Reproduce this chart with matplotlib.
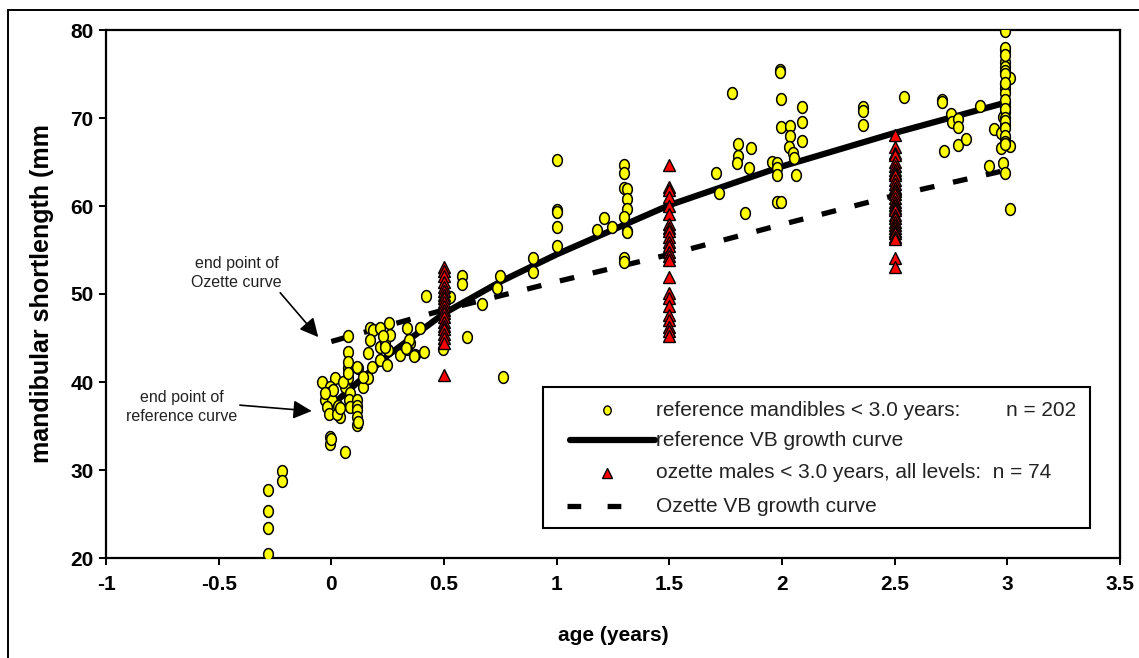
import numpy as np
import matplotlib
matplotlib.use("Agg")
import matplotlib.pyplot as plt
from matplotlib.path import Path
from matplotlib.patches import Rectangle
from matplotlib.lines import Line2D

plt.rcParams['font.family'] = ['Liberation Sans', 'DejaVu Sans']

# ---------------- data ----------------
# reference mandibles (yellow circles)
ref_age = [
    -0.28, -0.28, -0.28, -0.28, -0.22, -0.22,
    -0.04, 0.075, 0.075, 0.075, 0.016, 0.075, 0.12, -0.006, -0.009, -0.028,
    0.002, 0.031, -0.02, -0.009, 0.039, 0.061, 0.083, 0.08, 0.083, 0.115,
    0.115, 0.115, 0.115, -0.006, -0.006, 0.061, 0.142, 0.164, 0.179, 0.216,
    0.246, 0.216, 0.238, 0.253, 0.172, 0.186, 0.216, 0.257, 0.172, 0.164,
    0.113, 0.053, 0.009, 0.142, 0.26, 0.305, 0.335, 0.35, 0.371, 0.394,
    0.411, 0.335, 0.228, 0.075, 0.075, 0.024, 0.113, -0.028, 0.039, 0.12, 0.0,
    0.42, 0.346, 0.33, 0.368, 0.24, 0.497, 0.579, 0.579, 0.527, 0.60, 0.669,
    0.737, 0.749, 0.764, 0.894, 0.894,
    1.0, 1.0, 1.0, 1.0, 1.0, 1.18, 1.21, 1.245,
    1.30, 1.30, 1.30, 1.31, 1.31, 1.31, 1.30, 1.31, 1.30, 1.30, 1.31,
    1.706, 1.72, 1.777, 1.806, 1.863, 1.804, 1.80, 1.854, 1.836,
    1.955, 1.98, 1.98, 1.98, 1.977, 1.994, 1.99, 1.99, 1.994, 1.994,
    2.036, 2.036, 2.033, 2.048, 2.054, 2.06, 2.088, 2.088, 2.088,
    2.36, 2.36, 2.36, 2.54, 2.71, 2.75, 2.754, 2.78, 2.78, 2.78, 2.816,
    2.72, 2.88, 2.92, 2.94, 2.71,
    2.99, 2.99, 2.99, 2.99, 2.99, 3.01, 2.99, 2.99, 2.99, 2.99, 2.99, 2.99,
    2.98, 2.99, 2.97, 2.99, 3.01, 2.97, 2.98, 2.99, 3.01,
    2.99, 2.99, 2.99, 2.99, 2.99, 2.99, 2.99, 2.99, 2.99, 2.99, 2.99, 2.99,
]
ref_len = [
    27.7, 25.3, 23.4, 20.4, 29.9, 28.8,
    40.0, 45.2, 43.4, 41.55, 40.4, 40.4, 41.55, 39.4, 38.7, 37.95,
    37.95, 37.3, 37.2, 36.4, 36.05, 39.4, 38.7, 37.95, 37.2, 37.95,
    37.3, 36.8, 35.1, 33.8, 33.0, 32.1, 39.4, 40.4, 41.7, 42.5,
    41.9, 44.0, 44.6, 43.6, 46.1, 45.9, 46.1, 46.7, 44.8, 43.3,
    41.7, 40.0, 39.1, 40.6, 45.3, 43.1, 46.1, 44.4, 43.1, 46.1,
    43.4, 43.8, 45.2, 42.3, 41.0, 36.4, 36.05, 38.7, 37.0, 35.4, 33.5,
    49.8, 44.8, 43.9, 43.0, 44.0, 43.7, 52.1, 51.1, 49.7, 45.15, 48.9,
    50.7, 52.1, 40.6, 54.05, 52.5,
    65.2, 59.5, 59.3, 57.65, 55.4, 57.3, 58.6, 57.65,
    64.7, 63.7, 62.0, 61.9, 60.8, 59.7, 58.8, 57.2, 54.05, 53.6, 57.0,
    63.7, 61.5, 72.8, 67.1, 66.6, 65.7, 64.9, 64.35, 59.2,
    65.0, 64.85, 64.3, 63.5, 60.5, 60.5, 75.4, 75.2, 72.2, 69.0,
    69.1, 67.95, 66.7, 66.0, 65.5, 63.5, 71.2, 69.6, 67.4,
    71.2, 70.8, 69.2, 72.4, 72.0, 70.5, 69.6, 69.85, 69.0, 66.9, 67.6,
    66.2, 71.4, 64.6, 68.8, 71.8,
    79.9, 77.7, 76.4, 75.8, 75.3, 74.5, 73.9, 73.4, 72.8, 71.85, 71.3, 70.7,
    70.15, 69.2, 68.3, 67.7, 66.8, 66.6, 64.9, 63.7, 59.7,
    78.0, 77.2, 75.0, 74.0, 72.0, 71.0, 70.0, 69.7, 68.9, 68.0, 67.3, 67.0,
]

# ozette males (red triangles)
oz_age = [0.5] * 20 + [1.5] * 24 + [2.5] * 30
oz_len = [
    53.1, 52.6, 52.0, 51.4, 50.8, 50.3, 49.85, 49.5, 49.1, 48.6, 48.2, 47.8,
    47.4, 46.8, 46.4, 46.0, 45.5, 45.0, 44.4, 40.8,
    64.7, 62.2, 61.8, 61.0, 60.0, 59.1, 58.0, 57.5, 57.2, 56.5, 55.9, 55.5,
    54.8, 54.3, 53.9, 51.9, 50.1, 49.5, 48.6, 47.6, 47.0, 46.3, 45.8, 45.2,
    68.1, 66.7, 66.0, 65.8, 65.0, 64.5, 64.1, 63.8, 63.5, 63.0, 62.5, 62.0,
    61.7, 61.4, 60.9, 60.5, 60.1, 59.8, 59.5, 59.0, 58.6, 58.2, 57.8, 57.5,
    57.2, 56.9, 56.5, 56.25, 54.05, 53.1,
]

# growth curves
ref_curve_age = [0.0, 0.25, 0.5, 0.75, 1.0, 1.5, 2.0, 2.5, 3.0]
ref_curve_len = [37.3, 43.0, 47.8, 51.4, 54.5, 60.1, 64.5, 68.3, 71.8]
oz_curve_age = [0.0, 0.5, 1.0, 1.5, 2.0, 2.5, 3.0]
oz_curve_len = [44.6, 48.2, 51.4, 54.5, 57.9, 61.2, 64.1]

x_ticks = [-1, -0.5, 0, 0.5, 1, 1.5, 2, 2.5, 3, 3.5]
x_tick_labels = ['-1', '-0.5', '0', '0.5', '1', '1.5', '2', '2.5', '3', '3.5']
y_ticks = [20, 30, 40, 50, 60, 70, 80]

# ---------------- figure ----------------
W, H = 1139, 658
fig = plt.figure(figsize=(W / 100, H / 100), dpi=100)
ax = fig.add_axes([106 / W, (H - 558) / H, 1014 / W, 528 / H])

# figure border (extends past right/bottom edges)
fig.add_artist(Rectangle((8 / W, -0.1), 1.2, 1.1 - 10 / H,
                         transform=fig.transFigure, fill=False,
                         lw=1.4, edgecolor='black'))

th = np.linspace(0, 2 * np.pi, 48)
ell = Path(np.c_[0.82 * np.cos(th), np.sin(th)], closed=True)

ax.plot(oz_curve_age, oz_curve_len, color='black', lw=3.8,
        dashes=(2.8, 3.6), solid_capstyle='butt', dash_capstyle='butt', zorder=2)
ax.plot(ref_curve_age, ref_curve_len, color='black', lw=4.5,
        solid_capstyle='round', zorder=2)
ax.plot(ref_age, ref_len, linestyle='none', marker=ell, markersize=8.5,
        markerfacecolor='#FFFF00', markeredgecolor='black',
        markeredgewidth=1.1, zorder=3)
ax.plot(oz_age, oz_len, linestyle='none', marker='^', markersize=9,
        markerfacecolor='#FF0000', markeredgecolor='black',
        markeredgewidth=1.0, zorder=4)

ax.set_xlim(-1, 3.5)
ax.set_ylim(20, 80)
ax.set_xticks(x_ticks)
ax.set_xticklabels(x_tick_labels)
ax.set_yticks(y_ticks)
for s in ax.spines.values():
    s.set_linewidth(1.6)
ax.tick_params(axis='both', direction='out', length=5, width=1.4,
               labelsize=15)
ax.tick_params(axis='x', pad=7)
ax.tick_params(axis='y', pad=4)
for lab in ax.get_xticklabels() + ax.get_yticklabels():
    lab.set_fontweight('bold')

ax.set_xlabel('age (years)', fontsize=15, fontweight='bold', labelpad=23)
ax.set_ylabel('mandibular shortlength (mm', fontsize=18, fontweight='bold',
              labelpad=12)

# annotations
ax.annotate('end point of\nOzette curve', xy=(-0.058, 45.1),
            xytext=(-0.42, 52.4), ha='center', va='center', fontsize=11.5,
            color='#222222', linespacing=1.35,
            arrowprops=dict(arrowstyle='-|>', color='black', lw=1.2,
                            mutation_scale=28, shrinkA=0, shrinkB=0,
                            relpos=(0.97, -0.05)))
ax.annotate('end point of\nreference curve', xy=(-0.087, 36.7),
            xytext=(-0.665, 37.2), ha='center', va='center', fontsize=11.5,
            color='#222222', linespacing=1.35,
            arrowprops=dict(arrowstyle='-|>', color='black', lw=1.2,
                            mutation_scale=28, shrinkA=0, shrinkB=0,
                            relpos=(1.0, 0.55)))

# legend (manual)
def fx(px):
    return (px - 106) / 1014

def fy(py):
    return (558 - py) / 528

ax.add_patch(Rectangle((fx(543), fy(528)), fx(1090) - fx(543), fy(387) - fy(528),
                       transform=ax.transAxes, fill=True, facecolor='white',
                       edgecolor='black', lw=1.5, zorder=10))
rows = [fy(410), fy(440), fy(473), fy(506)]
ax.add_line(Line2D([fx(607)], [rows[0]], transform=ax.transAxes, marker=ell,
                   markersize=6.5, markerfacecolor='#FFFF00', markeredgecolor='black',
                   markeredgewidth=1.0, linestyle='none', zorder=11))
ax.add_line(Line2D([fx(570), fx(655)], [rows[1], rows[1]], transform=ax.transAxes,
                   color='black', lw=4.5, solid_capstyle='round', zorder=11))
ax.add_line(Line2D([fx(607)], [rows[2]], transform=ax.transAxes, marker='^',
                   markersize=7, markerfacecolor='#FF0000', markeredgecolor='black',
                   markeredgewidth=1.0, linestyle='none', zorder=11))
ax.add_line(Line2D([fx(567), fx(638)], [rows[3], rows[3]], transform=ax.transAxes,
                   color='black', lw=3.8, dashes=(2.6, 5.0), dash_capstyle='butt',
                   zorder=11))
leg_texts = ['reference mandibles < 3.0 years:',
             'reference VB growth curve',
             'ozette males < 3.0 years, all levels:  n = 74',
             'Ozette VB growth curve']
for r, t in zip(rows, leg_texts):
    ax.text(fx(656), r, t, transform=ax.transAxes, fontsize=15,
            va='center', ha='left', color='#222222', zorder=12)
ax.text(fx(1006), rows[0], 'n = 202', transform=ax.transAxes, fontsize=15,
        va='center', ha='left', color='#222222', zorder=12)

fig.savefig('out.png', dpi=100)
